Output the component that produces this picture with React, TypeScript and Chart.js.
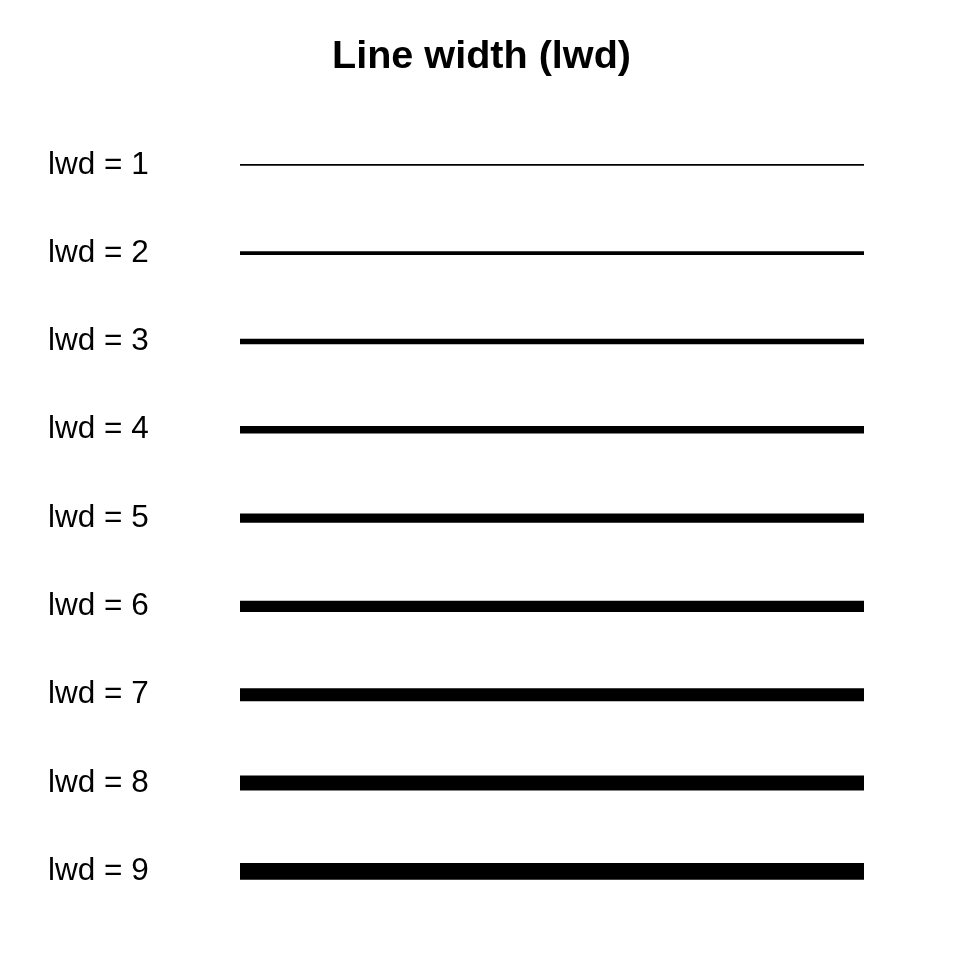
import React, { useEffect, useRef } from "react";
import { Chart, registerables } from "chart.js";

Chart.register(...registerables);

const lwdValues: number[] = [1, 2, 3, 4, 5, 6, 7, 8, 9];
const tickLabels: string[] = ["lwd = 1", "lwd = 2", "lwd = 3", "lwd = 4", "lwd = 5", "lwd = 6", "lwd = 7", "lwd = 8", "lwd = 9"];
const segmentX: number[] = [0, 1];
const titleText = "Line width (lwd)";

const PX_PER_LWD = 1.875;
// layout (pixels)
const PAD_LEFT = 48;
const PAD_RIGHT = 45;
const AREA_LEFT = 240;
const LINE_END = 864;
const AREA_RIGHT = 960 - PAD_RIGHT;

export default function App() {
  const ref = useRef<HTMLCanvasElement | null>(null);

  useEffect(() => {
    if (!ref.current) return;
    const datasets = lwdValues.map((w, i) => ({
      label: tickLabels[i],
      data: segmentX.map((x) => ({ x, y: w })),
      borderColor: "#000000",
      backgroundColor: "#000000",
      borderWidth: w * PX_PER_LWD,
      borderCapStyle: "butt" as const,
      pointRadius: 0,
      pointHoverRadius: 0,
      fill: false,
      tension: 0,
    }));

    const xMax = segmentX[1] + ((AREA_RIGHT - LINE_END) / (LINE_END - AREA_LEFT)) * (segmentX[1] - segmentX[0]);

    const chart = new Chart(ref.current, {
      type: "line",
      data: { datasets },
      options: {
        animation: false,
        responsive: false,
        devicePixelRatio: 1,
        layout: { padding: { left: PAD_LEFT, right: PAD_RIGHT, top: 0, bottom: 44.5 } },
        plugins: {
          legend: { display: false },
          tooltip: { enabled: false },
          title: {
            display: true,
            text: titleText,
            color: "#000000",
            font: { family: "'Liberation Sans', Arial, sans-serif", size: 39.6, weight: "bold", lineHeight: 1.2 },
            padding: { top: 33.5, bottom: 39.7 },
          },
        },
        scales: {
          x: {
            type: "linear",
            min: segmentX[0],
            max: xMax,
            display: false,
          },
          y: {
            type: "linear",
            reverse: true,
            min: 0.5,
            max: 9.5,
            grid: { display: false },
            border: { display: false },
            afterBuildTicks: (scale: any) => {
              scale.ticks = lwdValues.map((v) => ({ value: v }));
            },
            afterFit: (scale: any) => {
              scale.width = AREA_LEFT - PAD_LEFT;
            },
            ticks: {
              color: "#000000",
              padding: 0,
              crossAlign: "far",
              autoSkip: false,
              font: { family: "'Liberation Sans', Arial, sans-serif", size: 31.5 },
              callback: (value: any) => tickLabels[lwdValues.indexOf(Number(value))] ?? "",
            },
          },
        },
      },
    });
    return () => chart.destroy();
  }, []);

  return (
    <div style={{ position: "fixed", left: 0, top: 0, width: 960, height: 960, background: "#ffffff" }}>
      <canvas ref={ref} width={960} height={960} style={{ width: 960, height: 960 }} />
    </div>
  );
}
